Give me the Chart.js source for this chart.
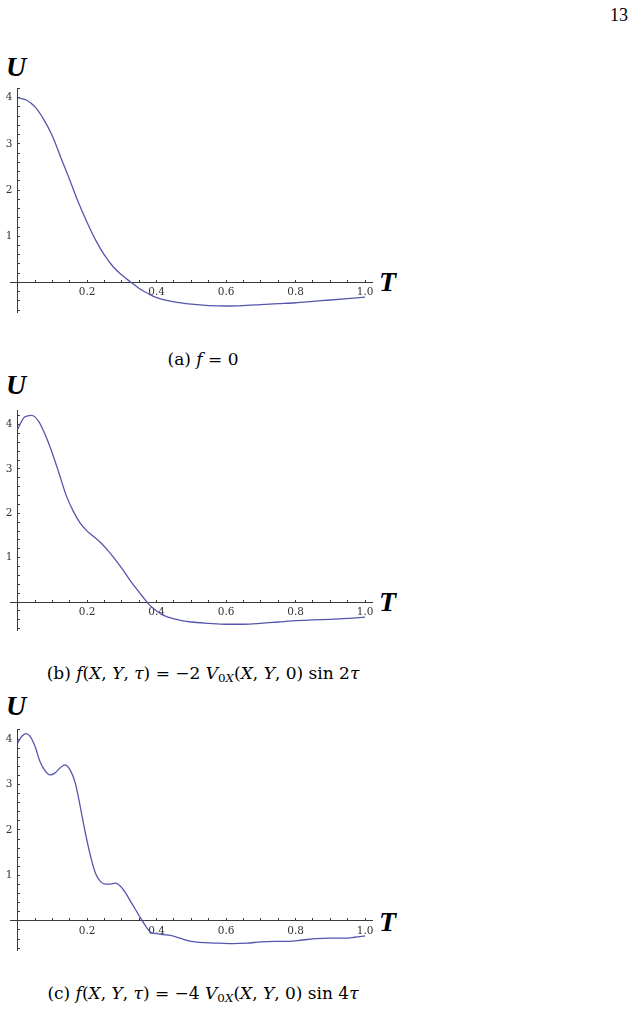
<!DOCTYPE html>
<html><head><meta charset="utf-8">
<script src="https://cdn.jsdelivr.net/npm/chart.js@4/dist/chart.umd.min.js"></script>
<style>
html,body{margin:0;padding:0;background:#fff;}
body{width:634px;height:1012px;position:relative;overflow:hidden;}
canvas{position:absolute;left:0;}
.t{position:absolute;font-family:"Liberation Serif","DejaVu Serif",serif;line-height:1;white-space:nowrap;color:#000;}
.ax{font-weight:bold;font-style:italic;font-size:28px;}
.cap{font-family:"DejaVu Serif",serif;font-size:17px;left:0;width:406px;text-align:center;}
.cap sub{font-size:0.7em;vertical-align:-0.25em;line-height:0;}
</style></head><body>
<div class="t" style="right:6px;top:6px;font-size:18px;">13</div>

<div class="t ax" style="left:6px;top:53px;">U</div>
<div class="t ax" style="left:379px;top:268px;">T</div>
<canvas id="ca" width="400" height="240" style="top:80px;width:400px;height:240px;"></canvas>
<div class="t cap" style="top:351px;">(a) <i>f</i> = 0</div>

<div class="t ax" style="left:6px;top:371px;">U</div>
<div class="t ax" style="left:379px;top:588px;">T</div>
<canvas id="cb" width="400" height="236" style="top:402px;width:400px;height:236px;"></canvas>
<div class="t cap" style="top:665px;">(b) <i>f</i>(<i>X</i>, <i>Y</i>, <i>τ</i>) = −2 <i>V</i><sub>0<i>X</i></sub>(<i>X</i>, <i>Y</i>, 0) sin 2<i>τ</i></div>

<div class="t ax" style="left:6px;top:692px;">U</div>
<div class="t ax" style="left:379px;top:908px;">T</div>
<canvas id="cc" width="400" height="237" style="top:721px;width:400px;height:237px;"></canvas>
<div class="t cap" style="top:985px;">(c) <i>f</i>(<i>X</i>, <i>Y</i>, <i>τ</i>) = −4 <i>V</i><sub>0<i>X</i></sub>(<i>X</i>, <i>Y</i>, 0) sin 4<i>τ</i></div>

<script>
// ---- data ----
const tA = [0,0.025,0.05,0.075,0.1,0.125,0.15,0.175,0.2,0.225,0.25,0.275,0.3,0.325,0.35,0.375,0.4,0.45,0.5,0.55,0.6,0.65,0.7,0.75,0.8,0.85,0.9,0.95,1.0];
const uA = [4.0,3.95,3.8,3.53,3.17,2.69,2.22,1.73,1.3,0.91,0.59,0.34,0.16,0.01,-0.13,-0.24,-0.33,-0.42,-0.47,-0.5,-0.51,-0.5,-0.48,-0.46,-0.44,-0.41,-0.38,-0.35,-0.32];

const tB = [0,0.02,0.04,0.06,0.08,0.1,0.12,0.14,0.16,0.18,0.2,0.22,0.24,0.26,0.28,0.3,0.32,0.34,0.36,0.38,0.4,0.42,0.45,0.5,0.55,0.6,0.65,0.7,0.75,0.8,0.85,0.9,0.95,1.0];
const uB = [3.9,4.17,4.21,4.08,3.76,3.35,2.88,2.4,2.05,1.78,1.6,1.47,1.33,1.16,0.97,0.76,0.53,0.32,0.12,-0.07,-0.2,-0.3,-0.38,-0.45,-0.48,-0.5,-0.5,-0.48,-0.45,-0.42,-0.4,-0.39,-0.37,-0.34];

const tC = [0,0.012,0.024,0.036,0.05,0.064,0.078,0.093,0.107,0.122,0.136,0.151,0.166,0.18,0.195,0.21,0.224,0.238,0.253,0.267,0.282,0.296,0.311,0.325,0.34,0.354,0.369,0.383,0.4,0.42,0.44,0.46,0.48,0.5,0.54,0.58,0.62,0.66,0.7,0.74,0.78,0.82,0.86,0.9,0.94,0.97,1.0];
const uC = [3.91,4.06,4.12,4.06,3.84,3.51,3.31,3.21,3.25,3.36,3.43,3.32,3.03,2.52,1.93,1.42,1.05,0.87,0.81,0.81,0.83,0.76,0.61,0.43,0.24,0.06,-0.12,-0.25,-0.28,-0.3,-0.32,-0.36,-0.41,-0.45,-0.48,-0.49,-0.5,-0.49,-0.46,-0.45,-0.45,-0.42,-0.39,-0.38,-0.38,-0.36,-0.33];

const xTicks = [0.05,0.1,0.15,0.2,0.25,0.3,0.35,0.4,0.45,0.5,0.55,0.6,0.65,0.7,0.75,0.8,0.85,0.9,0.95,1.0];
const xLabels = [0.2,0.4,0.6,0.8,1.0];
const yTicks = [-0.6,-0.4,-0.2,0.2,0.4,0.6,0.8,1,1.2,1.4,1.6,1.8,2,2.2,2.4,2.6,2.8,3,3.2,3.4,3.6,3.8,4,4.2];
const yLabels = [1,2,3,4];

const xRange = [-0.022, 1.02];
const yRangeA = [-0.64, 4.21];
const yRangeB = [-0.63, 4.33];
const yRangeC = [-0.64, 4.22];

// ---- style ----
const CURVE = '#5656ad';
const AXIS = '#3a3a3a';
const LABEL = '#333333';
const TICKFONT = {family: 'DejaVu Serif', size: 10.5};

function makeChart(id, xs, ys, yr) {
  const pts = xs.map((x, i) => ({x: x, y: ys[i]}));
  const tickGrid = {display: true, drawOnChartArea: false, drawTicks: true, tickLength: -3, tickColor: AXIS, tickWidth: 1, lineWidth: 1};
  return new Chart(document.getElementById(id), {
    type: 'line',
    data: {datasets: [{data: pts, borderColor: CURVE, borderWidth: 1.3, pointRadius: 0, cubicInterpolationMode: 'monotone', fill: false}]},
    options: {
      responsive: false, animation: false, events: [],
      layout: {padding: {left: 0, right: 28, top: 8, bottom: 8}},
      plugins: {legend: {display: false}, tooltip: {enabled: false}},
      scales: {
        y: {
          type: 'linear', min: yr[0], max: yr[1], position: {x: 0},
          afterBuildTicks: s => { s.ticks = yTicks.map(v => ({value: v})); },
          ticks: {display: false},
          grid: tickGrid,
          border: {display: true, color: AXIS, width: 1}
        },
        x: {
          type: 'linear', min: xRange[0], max: xRange[1], position: {y: 0},
          afterBuildTicks: s => { s.ticks = xTicks.map(v => ({value: v})); },
          ticks: {autoSkip: false, maxRotation: 0, padding: 7, color: LABEL, font: TICKFONT,
                  callback: v => xLabels.includes(v) ? Number(v).toFixed(1) : ''},
          grid: tickGrid,
          border: {display: true, color: AXIS, width: 1}
        },
        yl: {
          type: 'linear', min: yr[0], max: yr[1], position: 'left',
          afterBuildTicks: s => { s.ticks = yLabels.map(v => ({value: v})); },
          afterFit: s => { s.width = 10; },
          ticks: {autoSkip: false, mirror: true, crossAlign: 'far', padding: -4.2, color: LABEL, font: TICKFONT, callback: v => String(v)},
          grid: {display: false, drawTicks: false},
          border: {display: false}
        }
      }
    }
  });
}

makeChart('ca', tA, uA, yRangeA);
makeChart('cb', tB, uB, yRangeB);
makeChart('cc', tC, uC, yRangeC);
</script>
</body></html>
